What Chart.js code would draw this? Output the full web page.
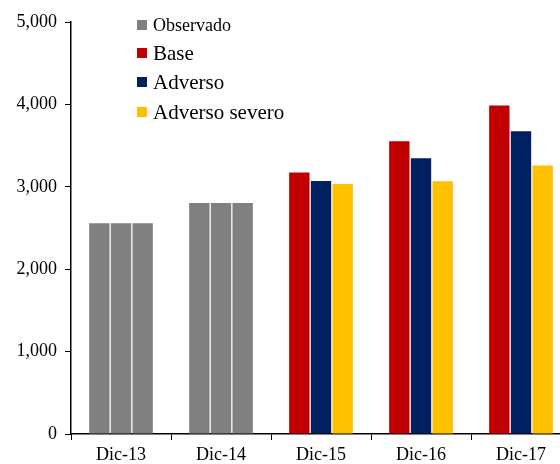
<!DOCTYPE html>
<html>
<head>
<meta charset="utf-8">
<script src="https://cdn.jsdelivr.net/npm/chart.js@4/dist/chart.umd.min.js"></script>
<style>
  body { margin: 0; overflow: hidden; background: #fff; }
  #wrap { position: relative; width: 572px; height: 464px; }
  .leg { position: absolute; left: 137px; font-family: "Liberation Serif", serif; color: #000; white-space: nowrap; }
  .leg i { display: inline-block; width: 10px; height: 10px; margin-right: 6px; vertical-align: middle; position: relative; top: -2px; }
</style>
</head>
<body>
<div id="wrap">
  <canvas id="chart"></canvas>
  <div class="leg" style="top:15px;font-size:18px"><i style="background:#808080"></i>Observado</div>
  <div class="leg" style="top:41px;font-size:21px"><i style="background:#C00000"></i>Base</div>
  <div class="leg" style="top:70px;font-size:21px"><i style="background:#002060"></i>Adverso</div>
  <div class="leg" style="top:100px;font-size:21px"><i style="background:#FFC000"></i>Adverso severo</div>
</div>
<script>
// escenarios: observado (Dic-13, Dic-14) y proyecciones
const categories = ["Dic-13", "Dic-14", "Dic-15", "Dic-16", "Dic-17"];
const base = [2557, 2803, 3175, 3554, 3987];
const adverso = [2557, 2803, 3070, 3345, 3675];
const adversoSevero = [2557, 2803, 3033, 3066, 3260];
const observedCount = 2; // first two periods are observed data

const GRAY = "#808080";

function colorsFor(color) {
  return categories.map((c, i) => (i < observedCount ? GRAY : color));
}

new Chart(document.getElementById("chart"), {
  type: "bar",
  data: {
    labels: categories,
    datasets: [
      { label: "Base", data: base, backgroundColor: colorsFor("#C00000") },
      { label: "Adverso", data: adverso, backgroundColor: colorsFor("#002060") },
      { label: "Adverso severo", data: adversoSevero, backgroundColor: colorsFor("#FFC000") },
    ],
  },
  options: {
    responsive: true,
    maintainAspectRatio: false,
    animation: false,
    categoryPercentage: 0.65,
    barPercentage: 0.94,
    layout: { padding: { top: 22, right: 1, left: 0, bottom: 0 } },
    scales: {
      x: {
        grid: { display: true, drawOnChartArea: false, color: "#000", tickLength: 6 },
        border: { color: "#000", width: 1.5 },
        ticks: { color: "#000", font: { family: "Liberation Serif", size: 18 }, padding: 4 },
        afterFit: (s) => { s.height = 30; },
      },
      y: {
        min: 0,
        max: 5000,
        grid: { display: true, drawOnChartArea: false, color: "#000", tickLength: 6 },
        border: { color: "#000", width: 1.5 },
        ticks: {
          stepSize: 1000,
          color: "#000",
          font: { family: "Liberation Serif", size: 18 },
          padding: 8,
          callback: (v) => v.toLocaleString("en-US"),
        },
        afterFit: (s) => { s.width = 71; },
      },
    },
    plugins: { legend: { display: false }, tooltip: { enabled: false } },
  },
});
</script>
</body>
</html>
